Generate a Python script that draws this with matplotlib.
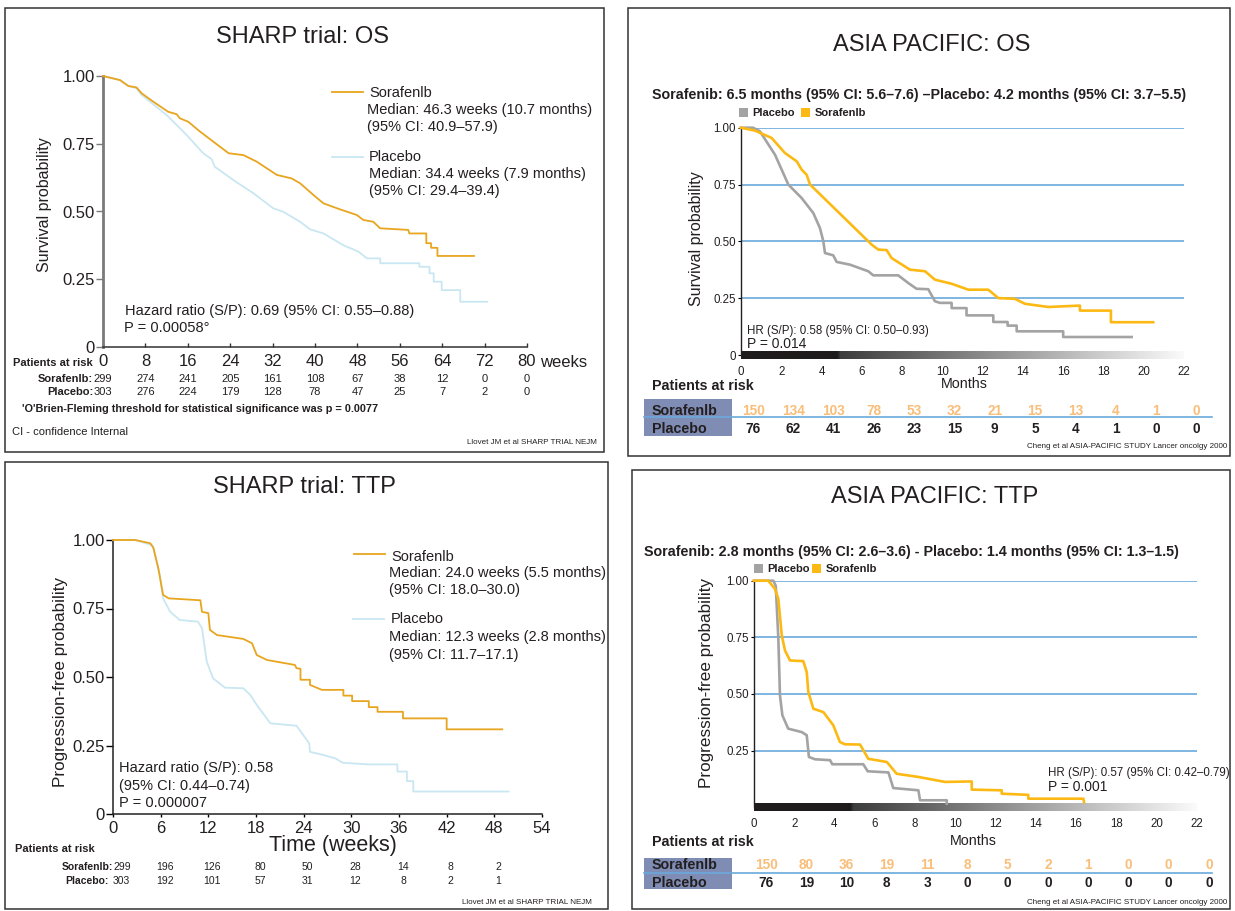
import numpy as np
import matplotlib
matplotlib.use("Agg")
import matplotlib.pyplot as plt
from matplotlib import transforms
from matplotlib.patches import Rectangle
from matplotlib.lines import Line2D
from matplotlib.colors import LinearSegmentedColormap

plt.rcParams['font.family'] = ['Liberation Sans', 'DejaVu Sans']

W, H = 1235, 911

# ---- SHARP trial: OS (weeks) ----
sharp_os_sor_t = [0, 3.2, 4.8, 6.3, 7.3, 9.5, 12.3, 13.9, 14.5, 16.1, 18.3, 21.4, 23.7, 26.5, 29, 32.8,
                  35.6, 37.2, 39.7, 41.6, 44.7, 47.9, 49.1, 51, 52.3, 57.6, 57.8, 61, 61, 61.9, 61.9,
                  63.1, 63.1, 70]
sharp_os_sor_s = [1.0, 0.985, 0.963, 0.958, 0.936, 0.905, 0.868, 0.859, 0.844, 0.831, 0.795, 0.749,
                  0.715, 0.708, 0.684, 0.635, 0.622, 0.604, 0.561, 0.53, 0.508, 0.487, 0.469, 0.462,
                  0.438, 0.432, 0.419, 0.419, 0.383, 0.383, 0.366, 0.366, 0.336, 0.336]
sharp_os_pla_t = [0, 3.2, 4.8, 6.3, 7.3, 12, 15.8, 18.9, 20.5, 21.1, 24.6, 28.4, 32.1, 34, 37.2, 39.1,
                  41.6, 45.3, 48.2, 49.8, 52.3, 52.3, 59.7, 59.7, 61.6, 61.6, 62.4, 62.4, 63.9, 63.9,
                  67.4, 67.4, 72.5]
sharp_os_pla_s = [1.0, 0.985, 0.963, 0.955, 0.93, 0.856, 0.782, 0.715, 0.693, 0.665, 0.616, 0.567,
                  0.512, 0.499, 0.462, 0.434, 0.419, 0.376, 0.352, 0.327, 0.327, 0.309, 0.309, 0.296,
                  0.296, 0.272, 0.272, 0.241, 0.241, 0.21, 0.21, 0.167, 0.167]
sharp_os_weeks = [0, 8, 16, 24, 32, 40, 48, 56, 64, 72, 80]
sharp_os_risk_sor = [299, 274, 241, 205, 161, 108, 67, 38, 12, 0, 0]
sharp_os_risk_pla = [303, 276, 224, 179, 128, 78, 47, 25, 7, 2, 0]

# ---- SHARP trial: TTP (weeks) ----
sharp_ttp_sor_t = [0, 2.8, 4.7, 5.1, 5.7, 6.3, 7.0, 11.0, 11.2, 12.0, 12.2, 13.1, 16.4, 17.5, 18.1, 19.4,
                   22.9, 23.1, 23.6, 23.6, 24.8, 24.8, 26.3, 29, 29, 30.1, 30.1, 32.2, 32.2, 33.3, 33.3,
                   36.5, 36.5, 42, 42, 49]
sharp_ttp_sor_s = [1, 1, 0.988, 0.97, 0.897, 0.8, 0.787, 0.78, 0.738, 0.733, 0.672, 0.653, 0.639, 0.623,
                   0.58, 0.562, 0.544, 0.532, 0.53, 0.49, 0.49, 0.471, 0.453, 0.453, 0.432, 0.432, 0.412,
                   0.412, 0.39, 0.39, 0.373, 0.373, 0.349, 0.349, 0.309, 0.309]
sharp_ttp_pla_t = [0, 2.8, 5.0, 5.9, 6.3, 7.2, 8.4, 10.7, 11.2, 11.8, 12.6, 14.1, 16.4, 17.3, 18.1, 19.8,
                   23.1, 23.8, 24.7, 24.8, 26.5, 28.0, 28.9, 32.2, 35.8, 35.8, 37.0, 37.0, 37.8, 37.8, 49.8]
sharp_ttp_pla_s = [1, 1, 0.98, 0.872, 0.787, 0.738, 0.708, 0.702, 0.678, 0.556, 0.495, 0.461, 0.459,
                   0.434, 0.398, 0.331, 0.322, 0.294, 0.258, 0.227, 0.215, 0.203, 0.187, 0.181, 0.181,
                   0.155, 0.155, 0.12, 0.12, 0.082, 0.082]
sharp_ttp_weeks = [0, 6, 12, 18, 24, 30, 36, 42, 48, 54]
sharp_ttp_risk_sor = [299, 196, 126, 80, 50, 28, 14, 8, 2]
sharp_ttp_risk_pla = [303, 192, 101, 57, 31, 12, 8, 2, 1]

# ---- ASIA PACIFIC: OS (months) ----
ap_os_sor_t = [0, 0.7, 1.52, 2.18, 2.77, 3.01, 3.26, 3.43, 6.49, 6.82, 7.23, 7.48, 8.39, 9.14, 9.63,
               10.46, 11.29, 12.28, 12.78, 13.6, 14.1, 15.26, 16.83, 16.83, 18.37, 18.37, 20.47]
ap_os_sor_s = [1.0, 0.987, 0.955, 0.889, 0.852, 0.816, 0.793, 0.75, 0.486, 0.464, 0.462, 0.427, 0.376,
               0.369, 0.332, 0.314, 0.288, 0.288, 0.251, 0.248, 0.226, 0.212, 0.218, 0.196, 0.196,
               0.145, 0.145]
ap_os_pla_t = [0, 0.6, 0.94, 1.69, 2.35, 3.01, 3.59, 3.92, 4.09, 4.17, 4.58, 4.75, 5.41, 6.32, 6.57,
               7.81, 8.31, 8.72, 9.3, 9.63, 9.88, 10.46, 10.46, 11.2, 11.2, 12.53, 12.53, 13.24, 13.24,
               13.69, 13.69, 16.0, 16.0, 19.4]
ap_os_pla_s = [1.0, 1.0, 0.984, 0.881, 0.75, 0.691, 0.625, 0.559, 0.5, 0.449, 0.439, 0.41, 0.398, 0.369,
               0.351, 0.351, 0.317, 0.292, 0.29, 0.237, 0.23, 0.23, 0.207, 0.207, 0.175, 0.175, 0.146,
               0.146, 0.13, 0.13, 0.105, 0.105, 0.08, 0.08]
ap_months = [0, 2, 4, 6, 8, 10, 12, 14, 16, 18, 20, 22]
ap_os_risk_sor = [150, 134, 103, 78, 53, 32, 21, 15, 13, 4, 1, 0]
ap_os_risk_pla = [76, 62, 41, 26, 23, 15, 9, 5, 4, 1, 0, 0]

# ---- ASIA PACIFIC: TTP (months) ----
ap_ttp_sor_t = [0, 0.71, 1.04, 1.21, 1.38, 1.54, 1.79, 2.45, 2.62, 2.70, 2.95, 3.45, 3.94, 4.27, 4.52,
                5.27, 5.68, 6.6, 7.09, 8.17, 8.83, 9.49, 10.82, 10.82, 12.31, 12.31, 13.63, 13.63,
                16.37, 16.4]
ap_ttp_sor_s = [1, 1, 0.964, 0.92, 0.759, 0.692, 0.648, 0.645, 0.597, 0.509, 0.435, 0.42, 0.362, 0.288,
                0.278, 0.277, 0.214, 0.2, 0.148, 0.134, 0.123, 0.112, 0.114, 0.078, 0.075, 0.06, 0.055,
                0.038, 0.038, 0.023]
ap_ttp_pla_t = [0, 0.96, 1.08, 1.21, 1.29, 1.41, 1.70, 2.37, 2.62, 2.73, 3.03, 3.78, 3.89, 5.43, 5.65,
                6.68, 6.92, 8.17, 8.25, 9.58, 9.58]
ap_ttp_pla_s = [1, 1, 0.978, 0.744, 0.494, 0.406, 0.347, 0.332, 0.318, 0.222, 0.212, 0.208, 0.19, 0.19,
                0.159, 0.154, 0.085, 0.075, 0.031, 0.031, 0.016]
ap_ttp_risk_sor = [150, 80, 36, 19, 11, 8, 5, 2, 1, 0, 0, 0]
ap_ttp_risk_pla = [76, 19, 10, 8, 3, 0, 0, 0, 0, 0, 0, 0]

ORANGE = '#E8A51F'
LBLUE = '#C9E7F2'
AP_ORANGE = '#FDB913'
AP_GRAY = '#A3A3A3'
GRID_BLUE = '#6AA9DC'
RISK_ORANGE = '#F8BE7A'
BOX_BLUE = '#7F8CB3'
TXT = '#231F20'

fig = plt.figure(figsize=(W / 100, H / 100), dpi=100)


def add_ax(x0, x1, y_top, y_bot):
    return fig.add_axes([x0 / W, 1 - y_bot / H, (x1 - x0) / W, (y_bot - y_top) / H])


def ftext(px, py, s, **kw):
    kw.setdefault('va', 'center')
    kw.setdefault('color', TXT)
    return fig.text(px / W, 1 - py / H, s, **kw)


def fline(x0, x1, py, **kw):
    fig.add_artist(Line2D([x0 / W, x1 / W], [1 - py / H, 1 - py / H], transform=fig.transFigure, **kw))


def frect(x0, y0, x1, y1, **kw):
    fig.add_artist(Rectangle((x0 / W, 1 - y1 / H), (x1 - x0) / W, (y1 - y0) / H,
                             transform=fig.transFigure, **kw))


def risk_row(ax, ticks, counts, py, dx=0.0, first_left=False, **kw):
    tr = transforms.blended_transform_factory(ax.transData, fig.transFigure)
    for i, (t, n) in enumerate(zip(ticks, counts)):
        if first_left and i == 0:
            ax.text(t, 1 - py / H, str(n), transform=tr, ha='left', va='center', **kw)
        else:
            ax.text(t + dx, 1 - py / H, str(n), transform=tr, ha='center', va='center', **kw)


# panel frames
for box in [(5, 8, 604, 452), (5, 462, 608, 909), (628, 8, 1230, 456), (632, 470, 1230, 909)]:
    frect(*box, fill=False, ec='#333333', lw=1.1)

# =================== SHARP OS ===================
axA = add_ax(103, 527, 76, 347)
axA.plot(sharp_os_pla_t, sharp_os_pla_s, color=LBLUE, lw=1.3, zorder=2, clip_on=False)
axA.plot(sharp_os_sor_t, sharp_os_sor_s, color=ORANGE, lw=1.3, zorder=3, clip_on=False)
axA.set_xlim(0, 80)
axA.set_ylim(0, 1)
axA.set_xticks(sharp_os_weeks)
axA.set_yticks([0, 0.25, 0.5, 0.75, 1.0])
axA.set_yticklabels(['0', '0.25', '0.50', '0.75', '1.00'])
for s in ['top', 'right']:
    axA.spines[s].set_visible(False)
axA.spines['left'].set_color('#7a7a7a')
axA.spines['left'].set_linewidth(2)
axA.spines['bottom'].set_color('#333333')
axA.spines['bottom'].set_linewidth(1.1)
axA.tick_params(axis='y', direction='out', length=5, width=1, color='#7a7a7a', pad=1, labelsize=12,
                labelcolor=TXT)
axA.tick_params(axis='x', direction='in', length=3, width=1, color='#333333', pad=5, labelsize=12,
                labelcolor=TXT)
axA.annotate('weeks', xy=(80, 0), xycoords='data', xytext=(9.5, -5.5), textcoords='offset points',
             ha='left', va='top', fontsize=12, color=TXT, annotation_clip=False)

ftext(302, 37, 'SHARP trial: OS', ha='center', fontsize=17)
ftext(45, 205, 'Survival probability', ha='center', rotation=90, fontsize=11.5)
fline(332, 363, 92, color=ORANGE, lw=1.3)
ftext(369, 93, 'Sorafenlb', fontsize=10.5)
ftext(367, 110, 'Median: 46.3 weeks (10.7 months)', fontsize=10.5)
ftext(367, 127, '(95% CI: 40.9–57.9)', fontsize=10.5)
fline(332, 363, 157, color=LBLUE, lw=1.3)
ftext(369, 157, 'Placebo', fontsize=10.5)
ftext(369, 174, 'Median: 34.4 weeks (7.9 months)', fontsize=10.5)
ftext(369, 191, '(95% CI: 29.4–39.4)', fontsize=10.5)
ftext(125, 311, 'Hazard ratio (S/P): 0.69 (95% CI: 0.55–0.88)', fontsize=10.5)
ftext(124, 328, 'P = 0.00058°', fontsize=10.5)

ftext(13, 363, 'Patients at risk', fontsize=8, fontweight='bold')
ftext(93, 379, 'Sorafenlb:', ha='right', fontsize=8, fontweight='bold')
ftext(93, 392, 'Placebo:', ha='right', fontsize=8, fontweight='bold')
risk_row(axA, sharp_os_weeks, sharp_os_risk_sor, 379, fontsize=8, color=TXT)
risk_row(axA, sharp_os_weeks, sharp_os_risk_pla, 392, fontsize=8, color=TXT)
ftext(22, 409, "'O'Brien-Fleming threshold for statistical significance was p = 0.0077",
      fontsize=7.8, fontweight='bold')
ftext(12, 432, 'CI - confidence Internal', fontsize=8)
ftext(597, 442, 'Llovet JM et al SHARP TRIAL NEJM', ha='right', fontsize=5.8)

# =================== SHARP TTP ===================
axB = add_ax(113, 542, 540, 814)
axB.plot(sharp_ttp_pla_t, sharp_ttp_pla_s, color=LBLUE, lw=1.3, zorder=2, clip_on=False)
axB.plot(sharp_ttp_sor_t, sharp_ttp_sor_s, color=ORANGE, lw=1.3, zorder=3, clip_on=False)
axB.set_xlim(0, 54)
axB.set_ylim(0, 1)
axB.set_xticks(sharp_ttp_weeks)
axB.set_yticks([0, 0.25, 0.5, 0.75, 1.0])
axB.set_yticklabels(['0', '0.25', '0.50', '0.75', '1.00'])
for s in ['top', 'right']:
    axB.spines[s].set_visible(False)
for s in ['left', 'bottom']:
    axB.spines[s].set_color('#222222')
    axB.spines[s].set_linewidth(1.1)
axB.tick_params(axis='y', direction='out', length=5, width=1, pad=1, labelsize=12, labelcolor=TXT)
axB.tick_params(axis='x', direction='out', length=2, width=1, pad=3, labelsize=12, labelcolor=TXT)

ftext(304, 487, 'SHARP trial: TTP', ha='center', fontsize=17)
ftext(60, 682, 'Progression-free probability', ha='center', rotation=90, fontsize=12.3)
ftext(333, 845, 'Time (weeks)', ha='center', fontsize=15.5)
fline(354, 385, 554, color=ORANGE, lw=1.3)
ftext(391, 557, 'Sorafenlb', fontsize=10.5)
ftext(389, 573, 'Median: 24.0 weeks (5.5 months)', fontsize=10.5)
ftext(389, 590, '(95% CI: 18.0–30.0)', fontsize=10.5)
fline(353, 384, 619, color=LBLUE, lw=1.3)
ftext(391, 619, 'Placebo', fontsize=10.5)
ftext(389, 637, 'Median: 12.3 weeks (2.8 months)', fontsize=10.5)
ftext(389, 655, '(95% CI: 11.7–17.1)', fontsize=10.5)
ftext(119, 768, 'Hazard ratio (S/P): 0.58', fontsize=10.5)
ftext(119, 786, '(95% CI: 0.44–0.74)', fontsize=10.5)
ftext(119, 803, 'P = 0.000007', fontsize=10.5)

ftext(15, 849, 'Patients at risk', fontsize=8, fontweight='bold')
ftext(113, 867, 'Sorafenlb:', ha='right', fontsize=7.5, fontweight='bold')
ftext(109, 881, 'Placebo:', ha='right', fontsize=7.5, fontweight='bold')
risk_row(axB, sharp_ttp_weeks, sharp_ttp_risk_sor, 867, dx=0.5, first_left=True, fontsize=7.5, color=TXT)
risk_row(axB, sharp_ttp_weeks, sharp_ttp_risk_pla, 881, dx=0.5, first_left=True, fontsize=7.5, color=TXT)
ftext(592, 903, 'Llovet JM et al SHARP TRIAL NEJM', ha='right', fontsize=5.8)

# =================== ASIA PACIFIC panels ===================
bar_cmap = LinearSegmentedColormap.from_list(
    'bar', [(0, '#1f1b1c'), (0.218, '#1f1b1c'), (0.222, '#3d3c3d'), (1, '#fafafa')])


def ap_axes(x0, x1, y_top, y_bot, sor_t, sor_s, pla_t, pla_s, yticks, ylabels, bar_ext):
    ax = add_ax(x0, x1, y_top, y_bot)
    ax.set_axisbelow(True)
    ax.imshow(np.linspace(0, 1, 512)[None, :], cmap=bar_cmap, aspect='auto',
              extent=(0, 22, bar_ext[0], bar_ext[1]), clip_on=False, zorder=1)
    ax.plot(pla_t, pla_s, color=AP_GRAY, lw=1.9, zorder=3, clip_on=False)
    ax.plot(sor_t, sor_s, color=AP_ORANGE, lw=1.9, zorder=4, clip_on=False)
    ax.set_xlim(0, 22)
    ax.set_ylim(0, 1)
    ax.set_xticks(ap_months)
    ax.set_yticks(yticks)
    ax.set_yticklabels(ylabels)
    ax.grid(axis='y', color=GRID_BLUE, lw=1.2)
    for s in ['top', 'right', 'bottom']:
        ax.spines[s].set_visible(False)
    ax.spines['left'].set_color('#231F20')
    ax.spines['left'].set_linewidth(1)
    ax.spines['left'].set_bounds(0, 1)
    ax.spines['left'].set_zorder(2)
    ax.tick_params(axis='y', direction='out', length=2, width=0.8, pad=1.5, labelsize=8.3,
                   labelcolor=TXT)
    ax.tick_params(axis='x', length=0, pad=8, labelsize=8.3, labelcolor=TXT)
    return ax


def legend_keys(x_gray, x_orange, py):
    frect(x_gray, py - 4.5, x_gray + 9, py + 4.5, fc=AP_GRAY, ec='none')
    ftext(x_gray + 13, py, 'Placebo', fontsize=8, fontweight='bold')
    frect(x_orange, py - 4.5, x_orange + 9, py + 4.5, fc=AP_ORANGE, ec='none')
    ftext(x_orange + 14, py, 'Sorafenlb', fontsize=8, fontweight='bold')


def risk_table(ax, py_head, box_y0, box_y1, py_sor, py_pla, sor, pla):
    ftext(652, py_head, 'Patients at risk', fontsize=10.3, fontweight='bold')
    frect(644, box_y0, 732, box_y1, fc=BOX_BLUE, ec='none')
    fline(644, 1212, (box_y0 + box_y1) / 2 - 0.5, color=GRID_BLUE, lw=1.2)
    ftext(652, py_sor, 'Sorafenlb', fontsize=10.3, fontweight='bold')
    ftext(652, py_pla, 'Placebo', fontsize=10.3, fontweight='bold')
    risk_row(ax, ap_months, sor, py_sor, dx=0.6, fontsize=9.8, fontweight='bold', color=RISK_ORANGE)
    risk_row(ax, ap_months, pla, py_pla, dx=0.6, fontsize=9.8, fontweight='bold', color=TXT)


# ---- OS ----
axC = ap_axes(741, 1184, 127.7, 355.2, ap_os_sor_t, ap_os_sor_s, ap_os_pla_t, ap_os_pla_s,
              [0, 0.25, 0.5, 0.75, 1.0], ['0', '0.25', '0.50', '0.75', '1.00'], (-0.016, 0.018))
ftext(932, 45, 'ASIA PACIFIC: OS', ha='center', fontsize=17)
ftext(919, 95, 'Sorafenib: 6.5 months (95% CI: 5.6–7.6) –Placebo: 4.2 months (95% CI: 3.7–5.5)',
      ha='center', fontsize=10.3, fontweight='bold')
legend_keys(739, 801, 112.5)
ftext(697, 239, 'Survival probability', ha='center', rotation=90, fontsize=11.5)
ftext(964, 384, 'Months', ha='center', fontsize=10.3)
ftext(747, 331, 'HR (S/P): 0.58 (95% CI: 0.50–0.93)', fontsize=8.3)
ftext(747, 344, 'P = 0.014', fontsize=10)
risk_table(axC, 386, 399, 436, 411, 429, ap_os_risk_sor, ap_os_risk_pla)
ftext(1227, 446, 'Cheng et al ASIA-PACIFIC STUDY Lancer oncolgy 2000', ha='right', fontsize=5.8)

# ---- TTP ----
axD = ap_axes(754, 1196.7, 580.7, 807.3, ap_ttp_sor_t, ap_ttp_sor_s, ap_ttp_pla_t, ap_ttp_pla_s,
              [0.25, 0.5, 0.75, 1.0], ['0.25', '0.50', '0.75', '1.00'], (-0.018, 0.014))
ftext(935, 497, 'ASIA PACIFIC: TTP', ha='center', fontsize=17)
ftext(911, 552, 'Sorafenib: 2.8 months (95% CI: 2.6–3.6) - Placebo: 1.4 months (95% CI: 1.3–1.5)',
      ha='center', fontsize=10.3, fontweight='bold')
legend_keys(754, 812, 568.5)
ftext(706, 683, 'Progression-free probability', ha='center', rotation=90, fontsize=12.3)
ftext(973, 841, 'Months', ha='center', fontsize=10.3)
ftext(1048, 773, 'HR (S/P): 0.57 (95% CI: 0.42–0.79)', fontsize=8.3)
ftext(1048, 787, 'P = 0.001', fontsize=10)
risk_table(axD, 842, 858, 889, 865, 883, ap_ttp_risk_sor, ap_ttp_risk_pla)
ftext(1227, 903, 'Cheng et al ASIA-PACIFIC STUDY Lancer oncolgy 2000', ha='right', fontsize=5.8)

fig.savefig('out.png', dpi=100)
